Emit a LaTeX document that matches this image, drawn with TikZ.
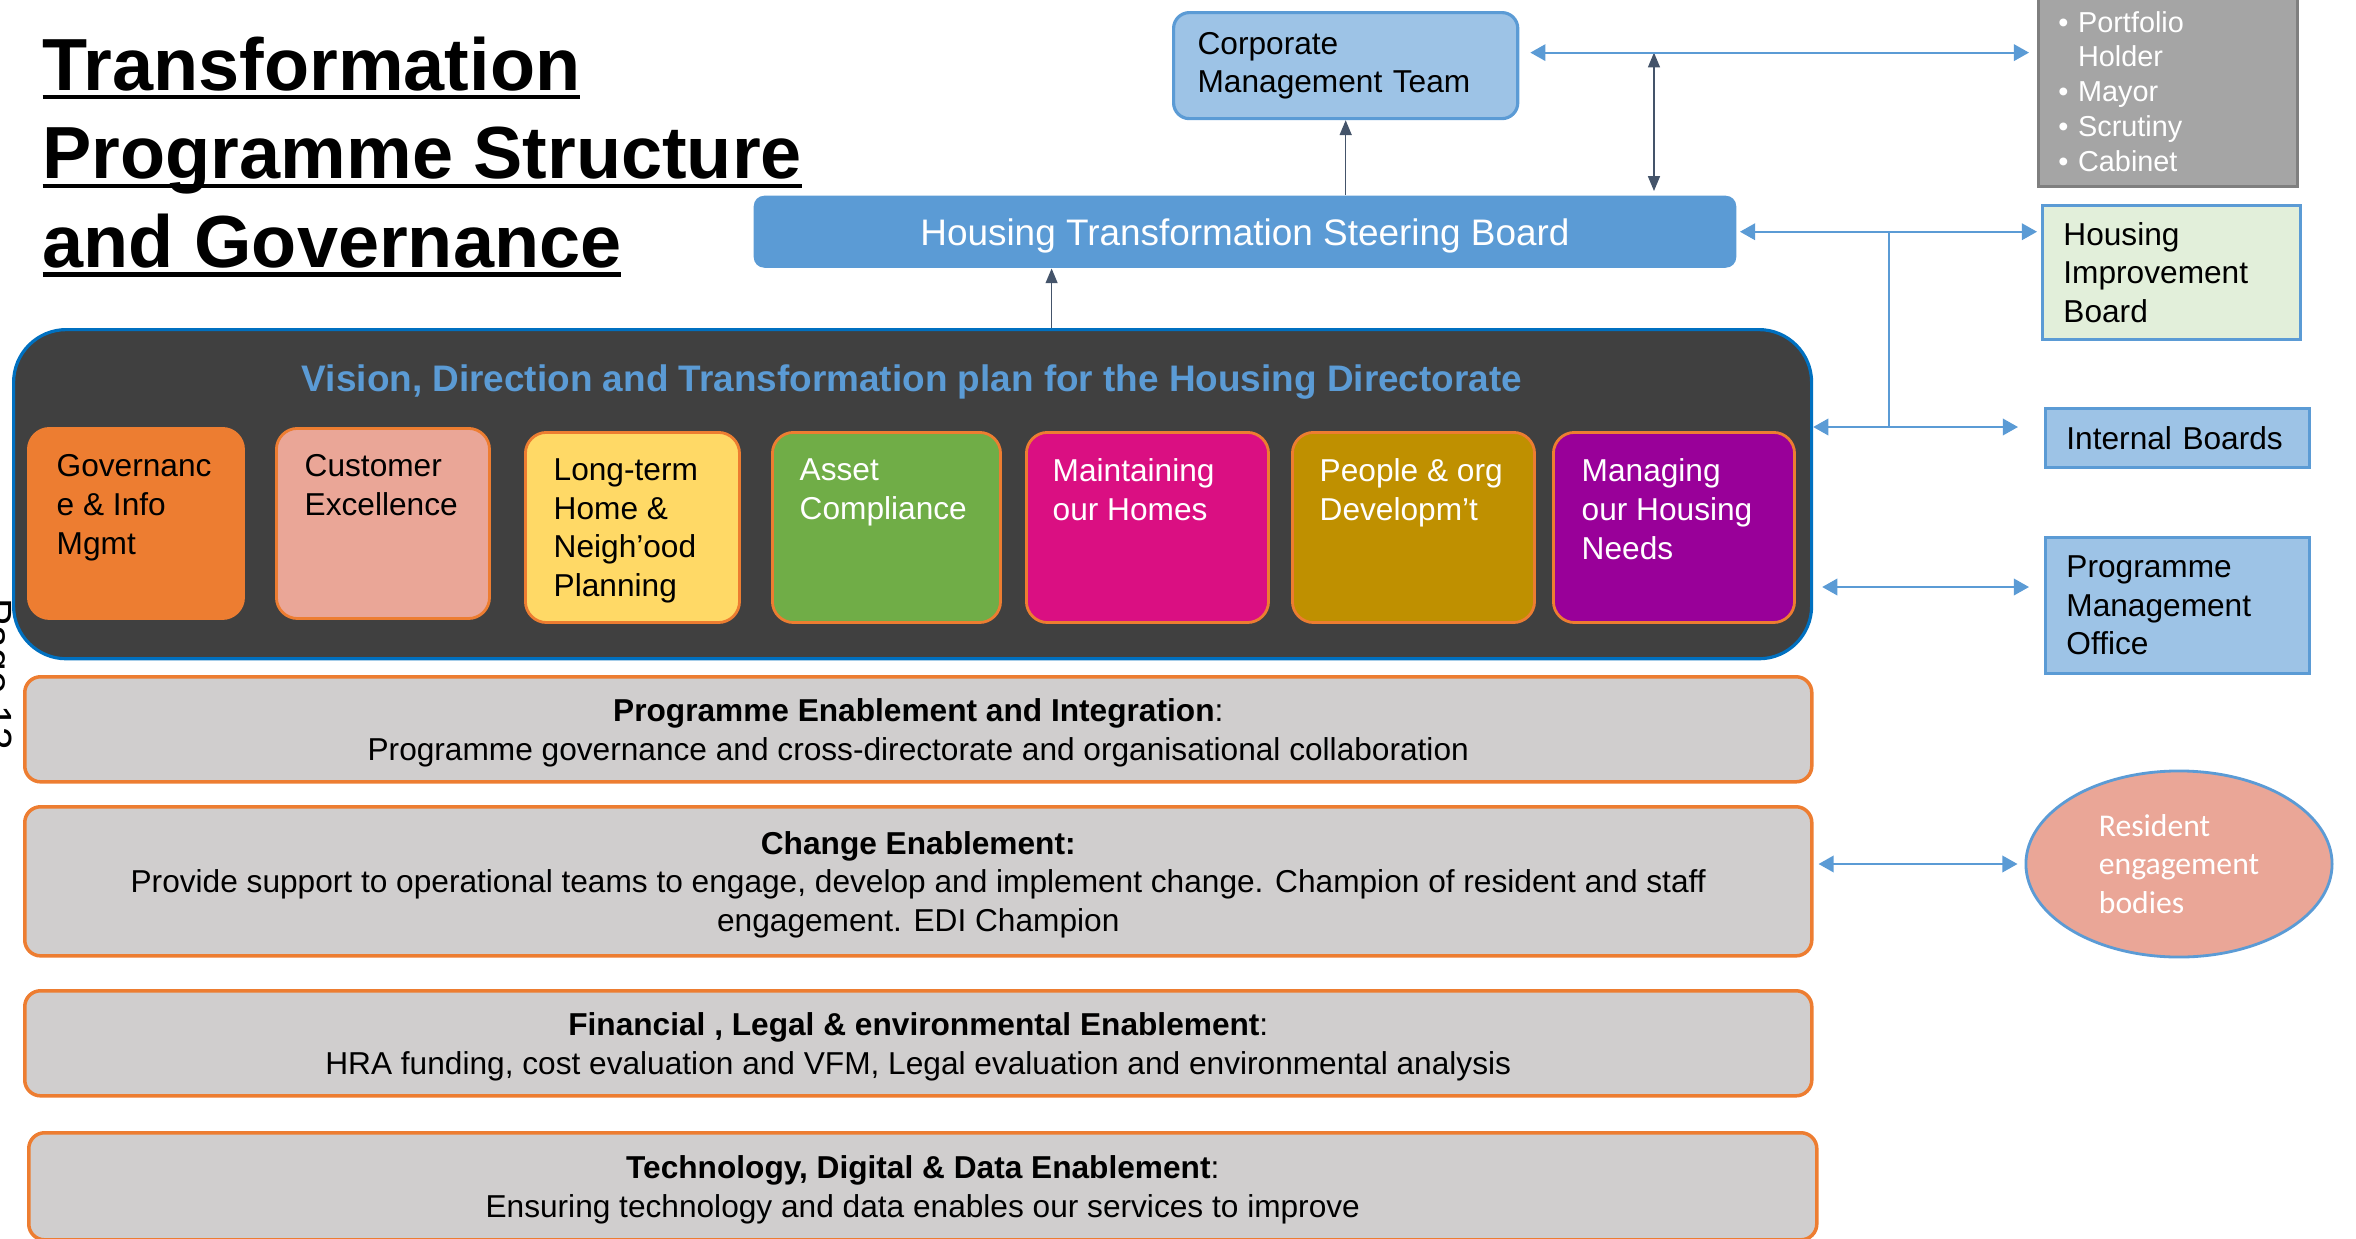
\documentclass[tikz,border=0pt]{standalone}
\usepackage{fontspec}
\setmainfont{Liberation Sans}
\newfontfamily\resfont{Carlito}
\usepackage{xcolor}
\usetikzlibrary{arrows.meta,shapes.geometric}

\definecolor{boxblue}{HTML}{9DC3E6}
\definecolor{midblue}{HTML}{5B9BD5}
\definecolor{edgeblue}{HTML}{0070C0}
\definecolor{slate}{HTML}{44546A}
\definecolor{panel}{HTML}{404040}
\definecolor{orangeA}{HTML}{ED7D31}
\definecolor{salmon}{HTML}{EAA697}
\definecolor{yellowA}{HTML}{FFD966}
\definecolor{greenA}{HTML}{70AD47}
\definecolor{magentaA}{HTML}{DA0F82}
\definecolor{goldA}{HTML}{BF9000}
\definecolor{purpleA}{HTML}{990099}
\definecolor{band}{HTML}{D0CECE}
\definecolor{greyA}{HTML}{A5A5A5}
\definecolor{greyedge}{HTML}{7F7F7F}
\definecolor{paleg}{HTML}{E2EFDA}

% thick underline for the heading
\newcommand{\headul}[1]{\setbox0\hbox{#1}\rlap{\rule[-2.6pt]{\wd0}{1.2pt}}\box0}

\tikzset{
  txt/.style={font=\fontsize{9}{11}\selectfont},
  unit/.style={draw=orangeA, line width=0.8pt, rounded corners=6pt, anchor=north west, inner sep=0, minimum height=1.9cm},
  unittxt/.style={txt, align=left, anchor=north west, inner sep=0},
  bandbox/.style={draw=orangeA, line width=1pt, fill=band, rounded corners=4.5pt, anchor=north west, minimum width=17.86cm, txt, align=center, text depth=0pt},
  sidebox/.style={draw=midblue, line width=0.8pt, txt, align=left, anchor=north west, inner xsep=0.21cm},
  bluetip/.style={midblue, line width=0.55pt, {Triangle[length=4.3pt,width=4.7pt]}-{Triangle[length=4.3pt,width=4.7pt]}},
  slatetip/.style={slate, line width=0.4pt, -{Triangle[length=4.2pt,width=3.4pt]}},
  slateboth/.style={slate, line width=0.4pt, {Triangle[length=4.2pt,width=3.4pt]}-{Triangle[length=4.2pt,width=3.4pt]}},
}

\begin{document}
\begin{tikzpicture}[x=0.01cm,y=-0.01cm]
\useasboundingbox (0,0) rectangle (2356,1239);

\node[anchor=north west, inner sep=0, align=left, font=\bfseries\fontsize{21}{25.2}\selectfont] (title) at (42,36)
  {\headul{Transformation}\\\headul{Programme Structure}\\\headul{and Governance}};

% governance boxes on top
\node[draw=midblue, line width=0.9pt, fill=boxblue, rounded corners=4.5pt, txt, align=left, anchor=north west,
  text width=2.96cm, inner xsep=0.24cm, minimum height=1.06cm] (cmt) at (1172,11) {Corporate\\Management Team};
\node[fill=midblue, rounded corners=3pt, anchor=north west, minimum width=9.82cm, minimum height=0.72cm, text depth=0pt,
  text=white, font=\fontsize{10.5}{12}\selectfont] (stb) at (753,195) {Housing Transformation Steering Board};

\node[sidebox, draw=greyedge, fill=greyA, text=white, text width=2.19cm, inner xsep=0.2cm, minimum height=1.9cm,
  font=\fontsize{8.2}{9.9}\selectfont] (cllr) at (2037,-5)
  {\textbullet\ Portfolio\\\phantom{\textbullet\ }Holder\\\textbullet\ Mayor\\\textbullet\ Scrutiny\\\textbullet\ Cabinet};
\node[sidebox, fill=paleg, text width=2.16cm, minimum height=1.34cm] (hib) at (2041,204) {Housing\\Improvement\\Board};
\node[sidebox, fill=boxblue, text width=2.22cm, minimum height=0.59cm] (ib) at (2044,407) {Internal Boards};
\node[sidebox, fill=boxblue, text width=2.22cm, minimum height=1.36cm] (pmo) at (2044,536) {Programme\\Management\\Office};
\node[ellipse, draw=midblue, line width=0.8pt, fill=salmon, minimum width=3.06cm, minimum height=1.86cm, inner sep=2pt,
  align=left, text=white, font=\resfont\fontsize{9}{10.9}\selectfont] (res) at (2179,864) {Resident\\engagement\\bodies};

% directorate plan panel
\node[draw=edgeblue, line width=0.9pt, fill=panel, rounded corners=15pt, anchor=north west, inner sep=0,
  minimum width=17.97cm, minimum height=3.29cm] (plan) at (12,328) {};
\node[text=midblue, font=\bfseries\fontsize{10.5}{12}\selectfont] (vision) at (912,382)
  {Vision, Direction and Transformation plan for the Housing Directorate};

\node[unit, fill=orangeA, minimum width=2.15cm] (gov) at (27,427) {};
\node[unit, fill=salmon, minimum width=2.13cm] (cust) at (275,427) {};
\node[unit, fill=yellowA, minimum width=2.14cm] (ltp) at (524,431) {};
\node[unit, fill=greenA, minimum width=2.28cm] (asset) at (771,431) {};
\node[unit, fill=magentaA, minimum width=2.42cm] (homes) at (1025,431) {};
\node[unit, fill=goldA, minimum width=2.42cm] (people) at (1291,431) {};
\node[unit, fill=purpleA, minimum width=2.41cm] (needs) at (1552,431) {};

\node[unittxt] (govtxt) at ([shift={(29,27)}]gov.north west) {Governanc\\e \& Info\\Mgmt};
\node[unittxt] (custtxt) at ([shift={(29,27)}]cust.north west) {Customer\\Excellence};
\node[unittxt] (ltptxt) at ([shift={(29,27)}]ltp.north west) {Long-term\\Home \&\\Neigh’ood\\Planning};
\node[unittxt, text=white] (assettxt) at ([shift={(28,27)}]asset.north west) {Asset\\Compliance};
\node[unittxt, text=white] (homestxt) at ([shift={(27,27)}]homes.north west) {Maintaining\\our Homes};
\node[unittxt, text=white] (peopletxt) at ([shift={(28,27)}]people.north west) {People \& org\\Developm’t};
\node[unittxt, text=white] (needstxt) at ([shift={(29,27)}]needs.north west) {Managing\\our Housing\\Needs};

% enablement bands
\node[bandbox, minimum height=1.05cm] (integ) at (23,675)
  {\textbf{Programme Enablement and Integration}:\\Programme governance and cross-directorate and organisational collaboration};
\node[bandbox, minimum height=1.49cm] (chg) at (23,805)
  {\textbf{Change Enablement:}\\Provide support to operational teams to engage, develop and implement change. Champion of resident and staff\\engagement. EDI Champion};
\node[bandbox, minimum height=1.05cm] (fin) at (23,989)
  {\textbf{Financial , Legal \& environmental Enablement}:\\HRA funding, cost evaluation and VFM, Legal evaluation and environmental analysis};
\node[bandbox, minimum height=1.07cm, minimum width=17.87cm] (tech) at (27,1131)
  {\textbf{Technology, Digital \& Data Enablement}:\\Ensuring technology and data enables our services to improve};

% connectors
\coordinate (cmtline) at ([shift={(11,-13)}]cmt.east);
\coordinate (ibjoin) at ([shift={(0,99)}]plan.north east);
\coordinate (pmojoin) at ([shift={(9,259)}]plan.north east);

\draw[slatetip] ([shift={(139,0)}]plan.north) -- ([shift={(139,0)}]plan.north |- stb.south);
\draw[slatetip] (stb.north -| cmt.south) -- (cmt.south);
\draw[slateboth] ([shift={(409,-4)}]stb.north) -- ([shift={(409,0)}]stb.north |- cmtline);
\draw[bluetip, shorten >=0.08cm] (cmtline) -- (cmtline -| cllr.west);
\draw[bluetip, shorten <=0.03cm, shorten >=0.04cm] (stb.east) -- (stb.east -| hib.west);
\draw[midblue, line width=0.4pt] ([shift={(152,0)}]stb.east) -- ([shift={(152,0)}]stb.east |- ibjoin);
\draw[bluetip, shorten >=0.26cm] (ibjoin) -- (ibjoin -| ib.west);
\draw[bluetip, shorten >=0.15cm] (pmojoin) -- (pmojoin -| pmo.west);
\draw[bluetip, shorten <=0.05cm, shorten >=0.07cm] (chg.east |- res.west) -- (res.west);

\node[rotate=-90, anchor=north west, inner sep=0, font=\fontsize{11.6}{13}\selectfont] (pgno) at (13,598) {Page 13};
\end{tikzpicture}
\end{document}
